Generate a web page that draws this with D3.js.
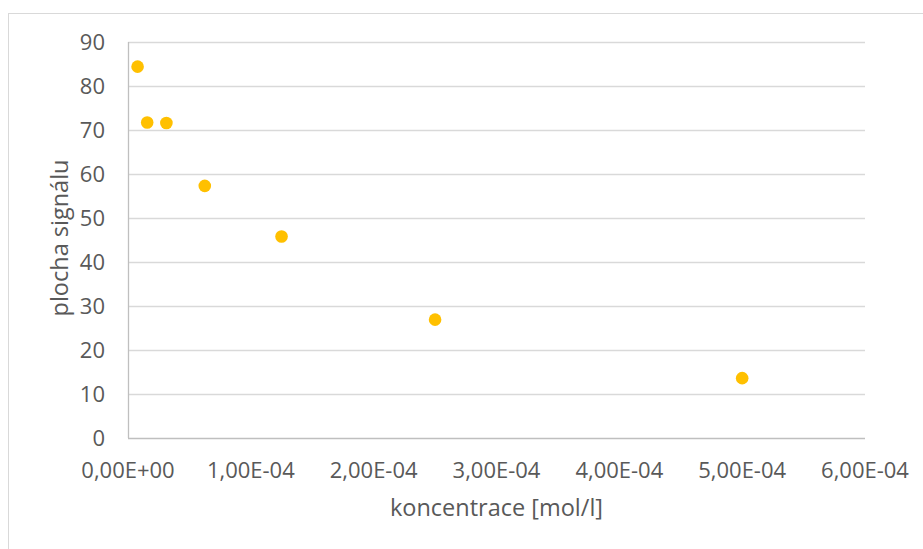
<!DOCTYPE html>
<html><head><meta charset="utf-8">
<script src="https://cdn.jsdelivr.net/npm/d3@7"></script>
<style>body{margin:0;background:#fff}svg{display:block}text{font-family:"Open Sans","Liberation Sans",sans-serif}</style>
</head><body>
<script>
const concentrations = [7.8125e-6, 1.5625e-5, 3.125e-5, 6.25e-5, 1.25e-4, 2.5e-4, 5e-4];
const areas = [84.4, 71.7, 71.6, 57.3, 45.8, 26.9, 13.6];
const xTicks = [0, 1e-4, 2e-4, 3e-4, 4e-4, 5e-4, 6e-4];
const xTickLabels = ["0,00E+00","1,00E-04","2,00E-04","3,00E-04","4,00E-04","5,00E-04","6,00E-04"];
const yTicks = [0,10,20,30,40,50,60,70,80,90];
const xTitle = "koncentrace [mol/l]";
const yTitle = "plocha signálu";

const W = 923, H = 549;
const svg = d3.select("body").append("svg").attr("width", W).attr("height", H);
svg.append("rect").attr("x", 8.5).attr("y", 13.5).attr("width", W).attr("height", H)
  .attr("fill", "#fff").attr("stroke", "#d9d9d9").attr("stroke-width", 1);

const x = d3.scaleLinear().domain([0, 6e-4]).range([128, 865]);
const y = d3.scaleLinear().domain([0, 90]).range([438, 42]);

// gridlines
svg.append("g").selectAll("line").data(yTicks.filter(d => d > 0)).join("line")
  .attr("x1", x(0)).attr("x2", x(6e-4))
  .attr("y1", d => Math.round(y(d)) + 0.5).attr("y2", d => Math.round(y(d)) + 0.5)
  .attr("stroke", "#d9d9d9").attr("stroke-width", 1.3);

// axes lines
svg.append("line").attr("x1", x(0)).attr("x2", x(6e-4)).attr("y1", y(0)+0.5).attr("y2", y(0)+0.5)
  .attr("stroke", "#bfbfbf").attr("stroke-width", 1.3);
svg.append("line").attr("x1", x(0)+0.5).attr("x2", x(0)+0.5).attr("y1", y(0)).attr("y2", y(90))
  .attr("stroke", "#bfbfbf").attr("stroke-width", 1.3);

// y tick labels
svg.append("g").selectAll("text").data(yTicks).join("text")
  .attr("x", 105).attr("y", d => y(d)).attr("dy", "0.35em")
  .attr("text-anchor", "end").attr("fill", "#595959").attr("font-size", 22)
  .text(d => d);

// x tick labels
svg.append("g").selectAll("text").data(xTicks).join("text")
  .attr("x", d => x(d)).attr("y", 470).attr("dy", "0.35em")
  .attr("text-anchor", "middle").attr("fill", "#595959").attr("font-size", 22)
  .text((d, i) => xTickLabels[i]);

// titles
svg.append("text").attr("x", (x(0)+x(6e-4))/2).attr("y", 508).attr("dy", "0.35em")
  .attr("text-anchor", "middle").attr("fill", "#595959").attr("font-size", 23.5).text(xTitle);
svg.append("text").attr("transform", `translate(60,${y(45)-2}) rotate(-90)`).attr("dy", "0.35em")
  .attr("text-anchor", "middle").attr("fill", "#595959").attr("font-size", 23.5).text(yTitle);

// points
svg.append("g").selectAll("circle").data(concentrations).join("circle")
  .attr("cx", d => x(d)).attr("cy", (d, i) => y(areas[i])).attr("r", 6.3)
  .attr("fill", "#ffc000");
</script>
</body></html>
